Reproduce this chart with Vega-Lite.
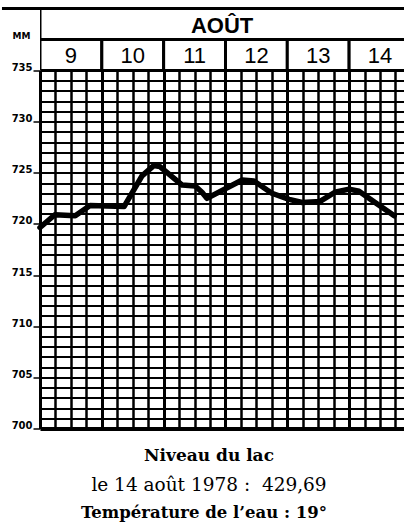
{
  "$schema": "https://vega.github.io/schema/vega-lite/v6.json",
  "background": "white",
  "padding": {"left": 0, "top": 6.5, "right": 0, "bottom": 0},
  "spacing": 0,
  "bounds": "flush",
  "config": {"view": {"stroke": null}, "concat": {"spacing": 0}},
  "title": {
    "text": "Température de l’eau : 19°",
    "orient": "bottom",
    "anchor": "middle",
    "font": "DejaVu Serif",
    "fontSize": 16.5,
    "fontWeight": "bold",
    "color": "black",
    "offset": 11
  },
  "vconcat": [
    {
      "width": 366,
      "height": 62,
      "data": {
        "values": [
          {"kind": "cell", "row": "m", "label": "AOÛT", "start": 9, "end": 15, "mid": 11.945},
          {"kind": "cell", "row": "d", "label": "9", "start": 9, "end": 10, "mid": 9.5},
          {"kind": "cell", "row": "d", "label": "10", "start": 10, "end": 11, "mid": 10.5},
          {"kind": "cell", "row": "d", "label": "11", "start": 11, "end": 12, "mid": 11.5},
          {"kind": "cell", "row": "d", "label": "12", "start": 12, "end": 13, "mid": 12.5},
          {"kind": "cell", "row": "d", "label": "13", "start": 13, "end": 14, "mid": 13.5},
          {"kind": "cell", "row": "d", "label": "14", "start": 14, "end": 15, "mid": 14.5},
          {"kind": "top", "row": "m", "label": "", "start": 8.385, "end": 14.92, "mid": 0}
        ]
      },
      "layer": [
        {
          "transform": [{"filter": "datum.kind === 'cell'"}],
          "mark": {"type": "rect", "fill": "white", "stroke": "black", "strokeWidth": 3, "clip": true},
          "encoding": {
            "x": {"field": "start", "type": "quantitative", "scale": {"domain": [9, 14.92], "nice": false, "zero": false}, "axis": null},
            "x2": {"field": "end"},
            "y": {"field": "row", "type": "nominal", "scale": {"domain": ["m", "d"], "paddingInner": 0, "paddingOuter": 0}, "axis": null}
          }
        },
        {
          "transform": [{"filter": "datum.kind === 'cell' && datum.row === 'm'"}],
          "mark": {"type": "text", "font": "Liberation Sans", "fontSize": 22, "fontWeight": "bold", "color": "black", "baseline": "middle", "dy": 2},
          "encoding": {
            "x": {"field": "mid", "type": "quantitative"},
            "y": {"field": "row", "type": "nominal"},
            "text": {"field": "label"}
          }
        },
        {
          "transform": [{"filter": "datum.kind === 'cell' && datum.row === 'd'"}],
          "mark": {"type": "text", "font": "Liberation Sans", "fontSize": 22, "fontWeight": "normal", "color": "black", "baseline": "middle", "dy": 1},
          "encoding": {
            "x": {"field": "mid", "type": "quantitative"},
            "y": {"field": "row", "type": "nominal"},
            "text": {"field": "label"}
          }
        },
        {
          "transform": [{"filter": "datum.kind === 'top'"}],
          "mark": {"type": "rule", "color": "black", "strokeWidth": 3},
          "encoding": {
            "x": {"field": "start", "type": "quantitative"},
            "x2": {"field": "end"},
            "y": {"field": "row", "type": "nominal", "bandPosition": 0}
          }
        }
      ]
    },
    {
      "width": 366,
      "height": 358,
      "title": {
        "text": "Niveau du lac",
        "subtitle": "le 14 août 1978 :\u00a0 429,69",
        "orient": "bottom",
        "anchor": "middle",
        "dx": -14,
        "font": "DejaVu Serif",
        "fontSize": 17,
        "fontWeight": "bold",
        "color": "black",
        "subtitleFont": "DejaVu Serif",
        "subtitleFontSize": 18.5,
        "subtitleFontWeight": "normal",
        "subtitleColor": "black",
        "subtitlePadding": 11,
        "offset": 17
      },
      "data": {
        "values": [
          {"t": 9.0, "mm": 719.65},
          {"t": 9.24, "mm": 720.9},
          {"t": 9.57, "mm": 720.8},
          {"t": 9.81, "mm": 721.8},
          {"t": 10.36, "mm": 721.7},
          {"t": 10.65, "mm": 724.7},
          {"t": 10.84, "mm": 725.7},
          {"t": 10.94, "mm": 725.6},
          {"t": 11.3, "mm": 723.8},
          {"t": 11.51, "mm": 723.7},
          {"t": 11.62, "mm": 723.1},
          {"t": 11.7, "mm": 722.5},
          {"t": 12.27, "mm": 724.3},
          {"t": 12.46, "mm": 724.2},
          {"t": 12.75, "mm": 723.0},
          {"t": 13.03, "mm": 722.4},
          {"t": 13.24, "mm": 722.1},
          {"t": 13.53, "mm": 722.2},
          {"t": 13.77, "mm": 723.1},
          {"t": 14.0, "mm": 723.4},
          {"t": 14.16, "mm": 723.2},
          {"t": 14.42, "mm": 722.1},
          {"t": 14.73, "mm": 720.8}
        ]
      },
      "mark": {"type": "line", "color": "black", "strokeWidth": 5.5, "strokeJoin": "round", "strokeCap": "round"},
      "encoding": {
        "x": {
          "field": "t",
          "type": "quantitative",
          "scale": {"domain": [9, 14.92], "nice": false, "zero": false},
          "axis": {
            "values": [9, 9.25, 9.5, 9.75, 10, 10.25, 10.5, 10.75, 11, 11.25, 11.5, 11.75, 12, 12.25, 12.5, 12.75, 13, 13.25, 13.5, 13.75, 14, 14.25, 14.5, 14.75],
            "grid": true,
            "gridColor": "black",
            "gridOpacity": 1,
            "gridWidth": {"condition": {"test": "datum.value % 1 === 0", "value": 3}, "value": 2.5},
            "labels": false,
            "ticks": false,
            "domain": false,
            "title": null
          }
        },
        "y": {
          "field": "mm",
          "type": "quantitative",
          "scale": {"domain": [700, 735], "nice": false, "zero": false},
          "axis": {
            "values": [700, 701, 702, 703, 704, 705, 706, 707, 708, 709, 710, 711, 712, 713, 714, 715, 716, 717, 718, 719, 720, 721, 722, 723, 724, 725, 726, 727, 728, 729, 730, 731, 732, 733, 734, 735],
            "grid": true,
            "gridColor": "black",
            "gridOpacity": 1,
            "gridWidth": {"condition": {"test": "datum.value === 700", "value": 4}, "value": 2},
            "labelExpr": "datum.value % 5 === 0 ? datum.label : ''",
            "labelFont": "DejaVu Sans",
            "labelFontSize": 10,
            "labelFontWeight": "bold",
            "labelColor": "black",
            "labelBaseline": "alphabetic",
            "labelPadding": 1,
            "tickSize": 7,
            "tickWidth": 1.5,
            "tickColor": "black",
            "tickOpacity": {"condition": {"test": "datum.value % 5 === 0", "value": 1}, "value": 0},
            "domain": true,
            "domainColor": "black",
            "domainWidth": 3,
            "title": "MM",
            "titleAngle": 0,
            "titleFont": "DejaVu Sans",
            "titleFontSize": 9,
            "titleFontWeight": "bold",
            "titleColor": "black",
            "titleAlign": "left",
            "titleBaseline": "middle",
            "titleX": -28,
            "titleY": -35
          }
        }
      }
    }
  ]
}
